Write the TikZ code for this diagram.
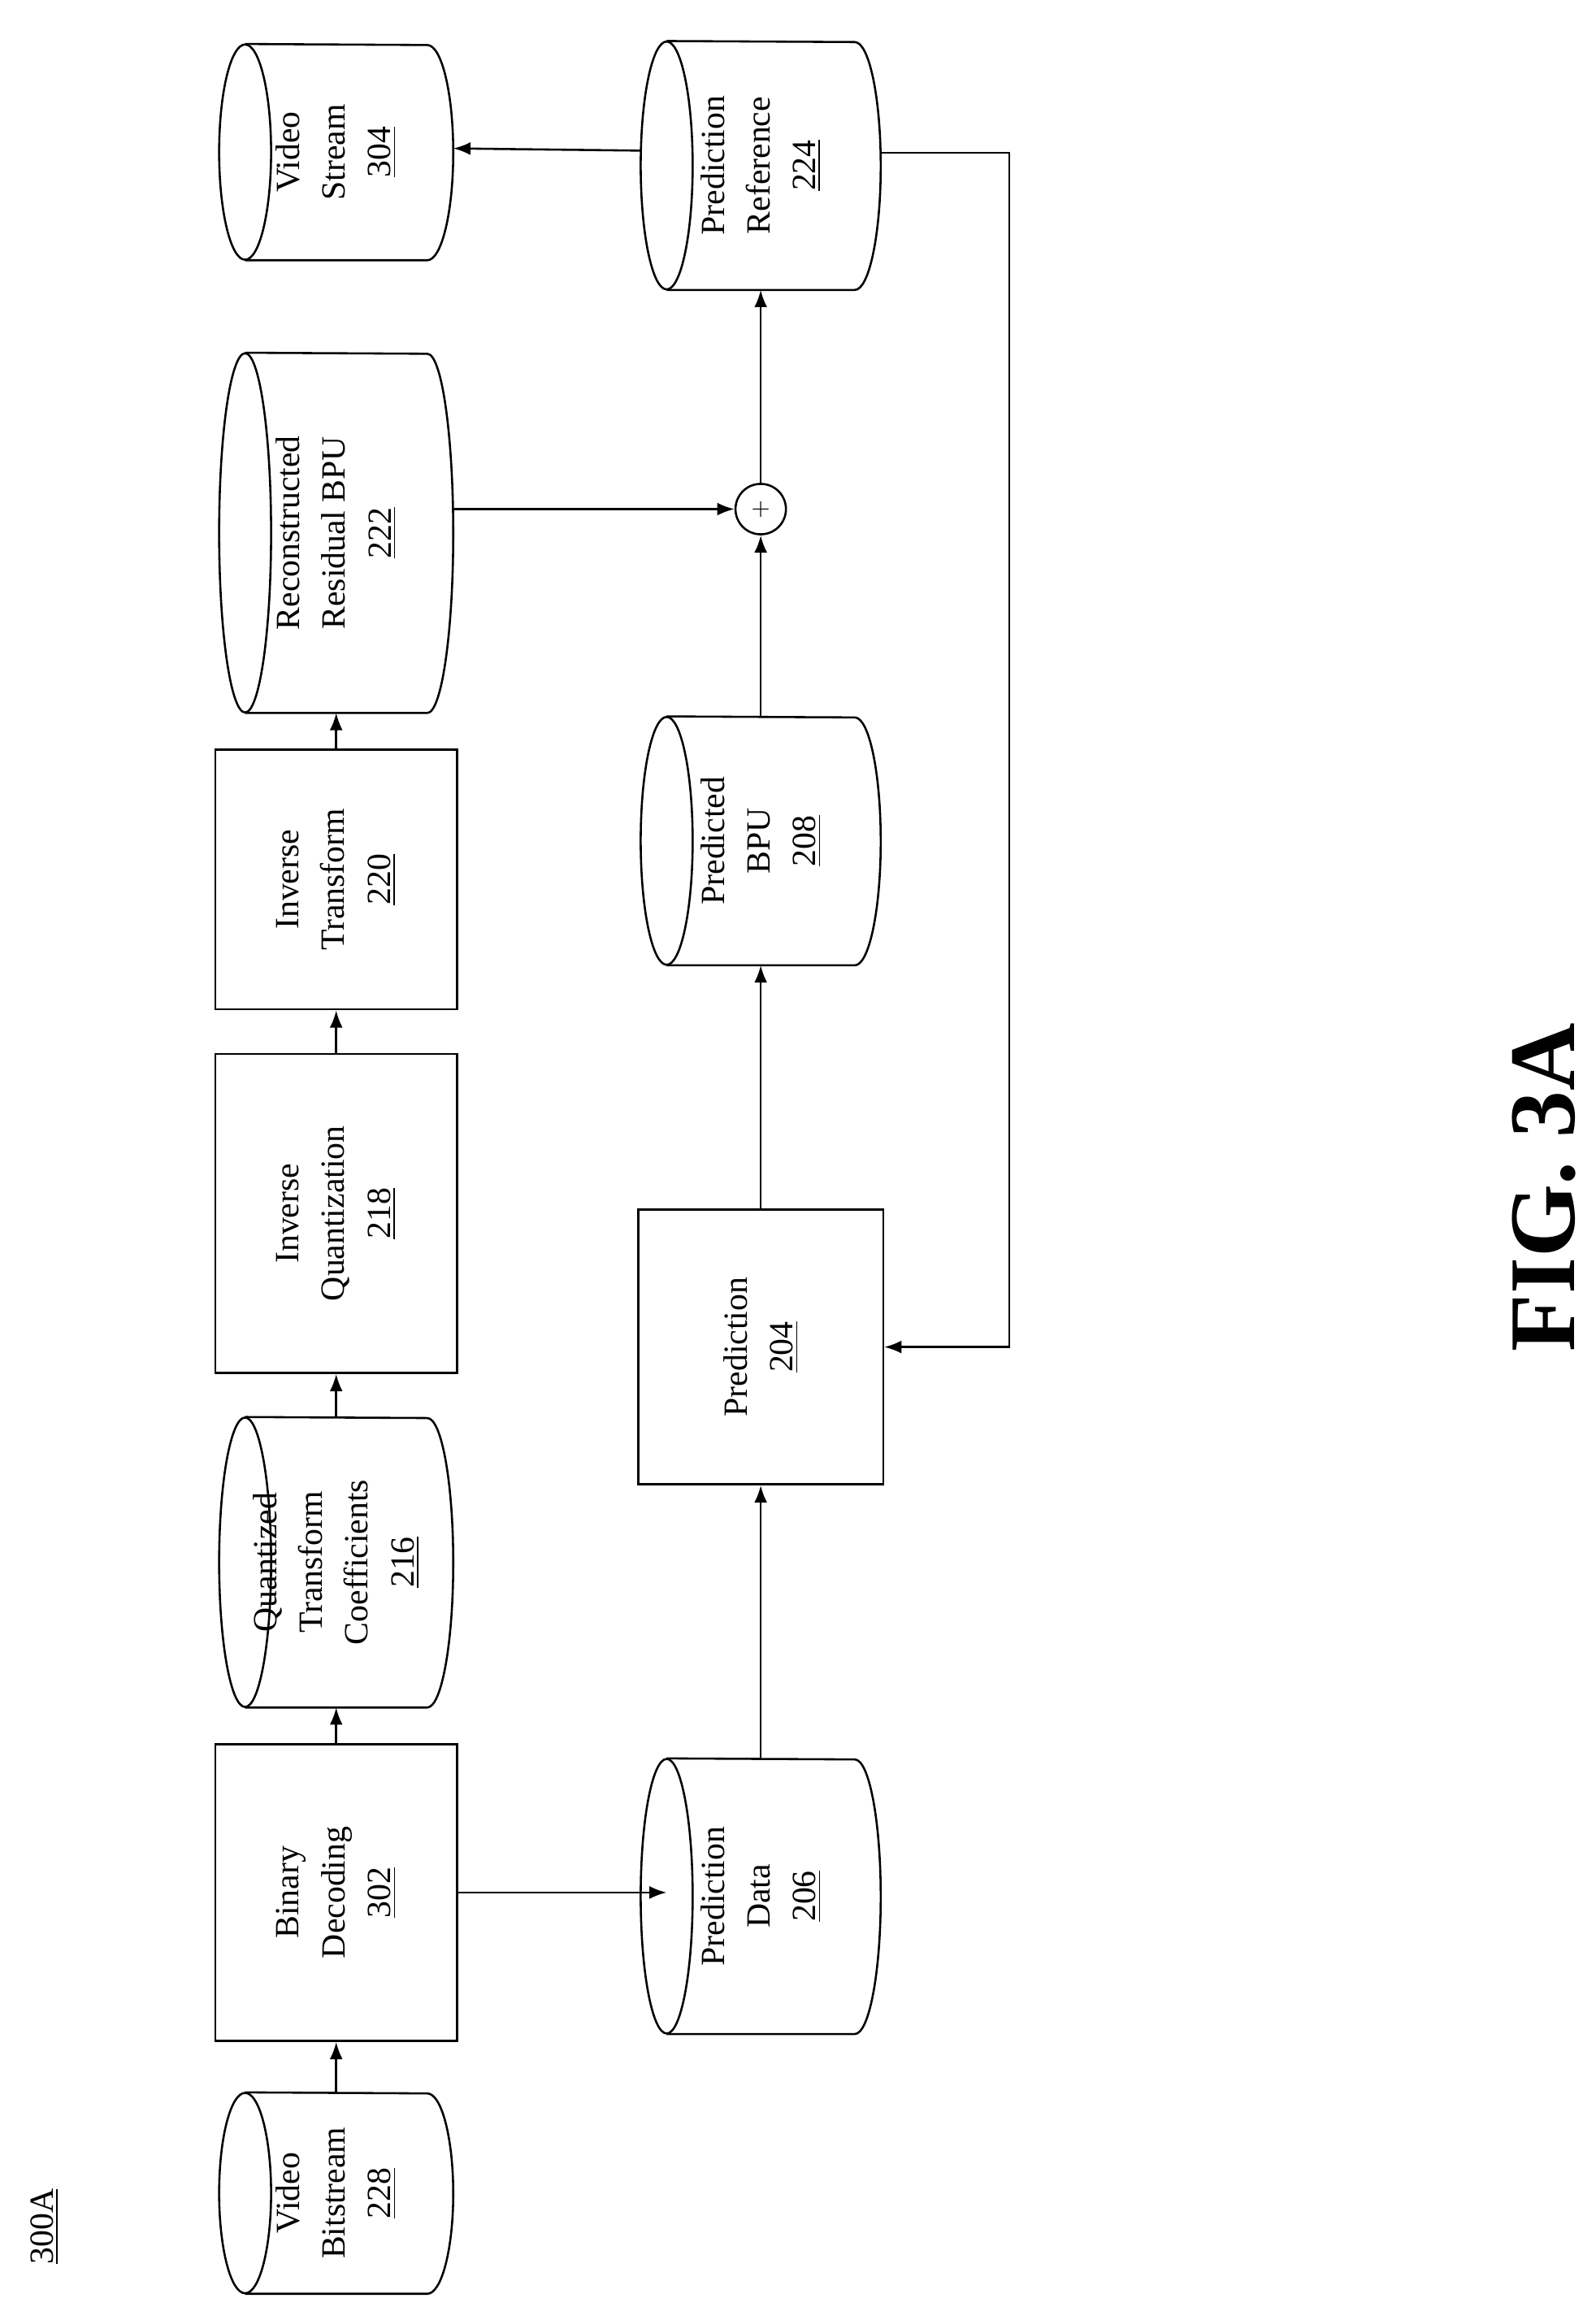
\documentclass[tikz,border=0pt]{standalone}
\usepackage{fontspec}
\setmainfont{Liberation Serif}
\usetikzlibrary{positioning, arrows.meta, calc}

% cylinder: name, x, y, width, height, text
\newcommand\datacyl[6]{%
    \node[store, minimum width=#4cm, minimum height=#5cm-0.7cm] (#1) at (#2,#3) {#6};
    \draw[thick] (#1.north) ellipse [x radius=#4cm/2, y radius=0.35cm];
    \draw[thick] (#1.north west) -- (#1.south west)
        arc [start angle=180, end angle=360, x radius=#4cm/2, y radius=0.35cm]
        -- (#1.north east);
}

\begin{document}
\begin{tikzpicture}[
    >=Latex, % filled arrow tips
    % Styles
    block/.style={ % processing step
        rectangle,
        draw,
        thick,
        align=center,
        font=\fontsize{13}{17.5}\selectfont
    },
    store/.style={ % data store text holder
        rectangle,
        inner sep=0pt,
        align=center,
        font=\fontsize{13}{17.5}\selectfont
    },
    arrow/.style={
        ->,
        thick
    }
]
\begin{scope}[rotate=90, transform shape]
    \useasboundingbox (0,0) rectangle (31.26,21.5);

    \node[font=\fontsize{13}{16}\selectfont] (label) at (1.26,20.9) {\underline{300A}};

    % Top row
    \datacyl{vbs}{1.71}{16.97}{2.7}{3.14}{Video\\Bitstream\\\underline{228}}
    \node[block, minimum width=4cm, minimum height=3.26cm] (bindec) at (5.76,16.97) {Binary\\Decoding\\\underline{302}};
    \datacyl{qtc}{10.21}{16.97}{3.9}{3.14}{Quantized\\Transform\\Coefficients\\\underline{216}}
    \node[block, minimum width=4.3cm, minimum height=3.26cm] (iquant) at (14.91,16.97) {Inverse\\Quantization\\\underline{218}};
    \node[block, minimum width=3.5cm, minimum height=3.26cm] (itrans) at (19.41,16.97) {Inverse\\Transform\\\underline{220}};
    \datacyl{resid}{24.08}{16.97}{4.84}{3.14}{Reconstructed\\Residual BPU\\\underline{222}}
    \datacyl{vstream}{29.21}{16.97}{2.9}{3.14}{Video\\Stream\\\underline{304}}

    % Bottom row
    \datacyl{pdata}{5.71}{11.25}{3.7}{3.22}{Prediction\\Data\\\underline{206}}
    \node[block, minimum width=3.7cm, minimum height=3.3cm] (pred) at (13.11,11.25) {Prediction\\\underline{204}};
    \datacyl{pbpu}{19.93}{11.25}{3.34}{3.22}{Predicted\\BPU\\\underline{208}}
    \node[circle, draw, thick, minimum size=0.68cm, inner sep=0pt, font=\small] (sum) at (24.4,11.25) {$+$};
    \datacyl{pref}{29.03}{11.25}{3.34}{3.22}{Prediction\\Reference\\\underline{224}}

    % Connectors
    \draw[arrow] (vbs) -- (bindec);
    \draw[arrow] (bindec) -- (qtc);
    \draw[arrow] (qtc) -- (iquant);
    \draw[arrow] (iquant) -- (itrans);
    \draw[arrow] (itrans) -- (resid);
    \draw[arrow] (bindec.south) -- (bindec.south |- pdata.north);
    \draw[arrow] (pdata) -- (pred);
    \draw[arrow] (pred) -- (pbpu);
    \draw[arrow] (pbpu) -- (sum);
    \draw[arrow] (sum) -- (pref);
    \draw[arrow] (sum |- resid.south) ++(0,-0.35) -- (sum.north);
    \draw[arrow] (pref.north) ++(0.2,0.35) -- ($(vstream.south)+(0.05,-0.35)$);
    \coordinate (loop) at (29.2,7.9);
    \draw[arrow] ($(pref.south)+(0.17,-0.35)$) -- (loop) -| (pred.south);

    \node[font=\fontsize{36}{40}\selectfont\bfseries] (fig) at (15.26,0.7) {FIG. 3A};
\end{scope}
\end{tikzpicture}
\end{document}
